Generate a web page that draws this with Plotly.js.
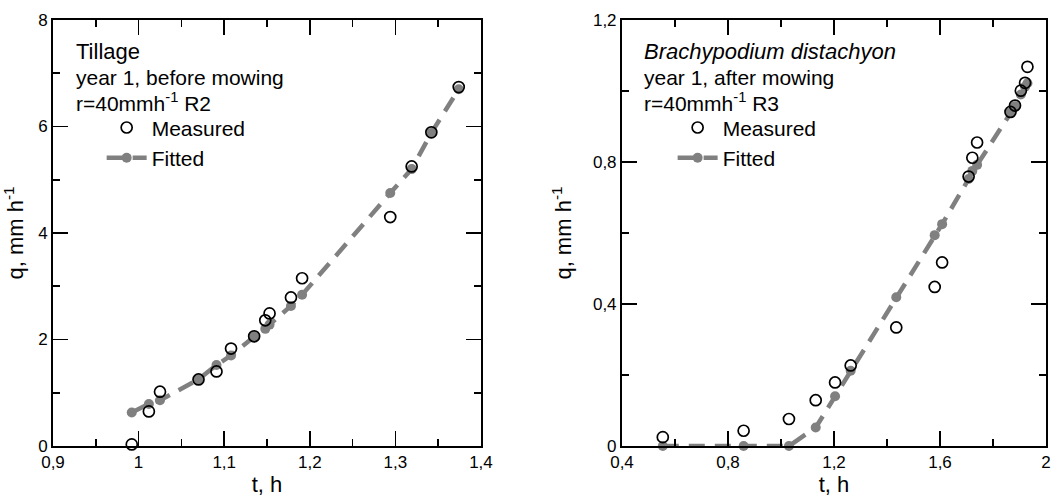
<!DOCTYPE html>
<html>
<head>
<meta charset="utf-8">
<script src="https://cdn.plot.ly/plotly-3.0.1.min.js"></script>
<style>html,body{margin:0;padding:0;background:#fff;}#chart{width:1053px;height:497px;}</style>
</head>
<body>
<div id="chart"></div>
<script>
// ---- Data: left panel (Tillage) ----
const tillTime = [0.992, 1.012, 1.025, 1.070, 1.091, 1.108, 1.135, 1.148, 1.153, 1.178, 1.191, 1.294, 1.319, 1.342, 1.374];
const tillMeasured = [0.03, 0.65, 1.02, 1.25, 1.40, 1.83, 2.06, 2.36, 2.49, 2.79, 3.15, 4.30, 5.25, 5.89, 6.74];
const tillFitted = [0.63, 0.79, 0.86, 1.25, 1.52, 1.70, 2.05, 2.20, 2.28, 2.63, 2.84, 4.75, 5.20, 5.88, 6.70];

// ---- Data: right panel (Brachypodium distachyon) ----
const brachTime = [0.554, 0.859, 1.030, 1.131, 1.204, 1.263, 1.435, 1.580, 1.608, 1.708, 1.722, 1.740, 1.866, 1.883, 1.905, 1.921, 1.930];
const brachMeasured = [0.025, 0.043, 0.076, 0.129, 0.179, 0.227, 0.334, 0.448, 0.517, 0.759, 0.812, 0.855, 0.941, 0.959, 1.001, 1.023, 1.068];
const brachFitted = [0, 0, 0, 0.052, 0.140, 0.212, 0.419, 0.594, 0.625, 0.752, 0.775, 0.792, 0.939, 0.957, 0.990, 1.012, 1.022];

// ---- Labels ----
const seriesNames = ['Measured', 'Fitted'];
const leftTitle = ['Tillage', 'year 1, before mowing', 'r=40mmh<sup>-1</sup> R2'];
const rightTitle = ['<i>Brachypodium distachyon</i>', 'year 1, after mowing', 'r=40mmh<sup>-1</sup> R3'];
const xTitle = 't, h';
const yTitle = 'q, mm h<sup>-1</sup>';

const FONT = 'Liberation Sans, Arial, sans-serif';
const GREY = '#808080';

function fittedTrace(x, y, xa, ya, leg) {
  return {
    x: x, y: y, xaxis: xa, yaxis: ya, legend: leg,
    type: 'scatter', mode: 'lines+markers', name: seriesNames[1], legendrank: 2,
    line: {color: GREY, width: 4.5, dash: '16px,10px'},
    marker: {color: GREY, size: 10, symbol: 'circle'},
    cliponaxis: false
  };
}
function measuredTrace(x, y, xa, ya, leg) {
  return {
    x: x, y: y, xaxis: xa, yaxis: ya, legend: leg,
    type: 'scatter', mode: 'markers', name: seriesNames[0], legendrank: 1,
    marker: {color: '#000', size: 11, symbol: 'circle-open', line: {width: 1.7, color: '#000'}},
    cliponaxis: false
  };
}

const data = [
  fittedTrace(tillTime, tillFitted, 'x', 'y', 'legend'),
  measuredTrace(tillTime, tillMeasured, 'x', 'y', 'legend'),
  fittedTrace(brachTime, brachFitted, 'x2', 'y2', 'legend2'),
  measuredTrace(brachTime, brachMeasured, 'x2', 'y2', 'legend2')
];

function axis(extra) {
  return Object.assign({
    showgrid: false, zeroline: false,
    showline: true, linecolor: '#000', linewidth: 2, mirror: 'allticks',
    ticks: 'inside', ticklen: 15, tickwidth: 1.6, tickcolor: '#000',
    tickfont: {family: FONT, size: 17, color: '#000'},
    fixedrange: true
  }, extra);
}

function annots(lines, xref, yref, x, ys, sizes) {
  return lines.map((t, i) => ({
    text: t, xref: xref, yref: yref, x: x, y: ys[i],
    xanchor: 'left', yanchor: 'middle', showarrow: false,
    font: {family: FONT, size: sizes[i], color: '#000'}
  }));
}
const yPix = [51, 77, 102];
const yDom = yPix.map(p => (446 - p) / 426);

const layout = {
  width: 1053, height: 497,
  margin: {l: 53, r: 7, t: 20, b: 51, pad: 0},
  paper_bgcolor: '#fff', plot_bgcolor: '#fff',
  separators: ', ',
  font: {family: FONT, color: '#000'},
  xaxis: axis({domain: [0, 0.431], range: [0.9, 1.4], tick0: 0.9, dtick: 0.1,
    minor: {dtick: 0.05, ticklen: 7, tickwidth: 1.6, tickcolor: '#000', ticks: 'inside'},
    title: {text: xTitle, font: {family: FONT, size: 22}, standoff: 6}, anchor: 'y'}),
  yaxis: axis({domain: [0, 1], range: [0, 8], tick0: 0, dtick: 2,
    minor: {dtick: 1, ticklen: 7, tickwidth: 1.6, tickcolor: '#000', ticks: 'inside'},
    title: {text: yTitle, font: {family: FONT, size: 22}, standoff: 8}, anchor: 'x'}),
  xaxis2: axis({domain: [0.573, 1], range: [0.4, 2], tick0: 0.4, dtick: 0.4,
    minor: {dtick: 0.2, ticklen: 7, tickwidth: 1.6, tickcolor: '#000', ticks: 'inside'},
    title: {text: xTitle, font: {family: FONT, size: 22}, standoff: 6}, anchor: 'y2'}),
  yaxis2: axis({domain: [0, 1], range: [0, 1.2], tick0: 0, dtick: 0.4,
    minor: {dtick: 0.2, ticklen: 7, tickwidth: 1.6, tickcolor: '#000', ticks: 'inside'},
    title: {text: yTitle, font: {family: FONT, size: 22}, standoff: 15}, anchor: 'x2'}),
  showlegend: true,
  legend: {x: 0.049, y: 0.795, xanchor: 'left', yanchor: 'top', bgcolor: 'rgba(0,0,0,0)',
    font: {family: FONT, size: 21, color: '#000'}, itemwidth: 40, tracegroupgap: 0, traceorder: 'normal'},
  legend2: {x: 0.624, y: 0.795, xanchor: 'left', yanchor: 'top', bgcolor: 'rgba(0,0,0,0)',
    font: {family: FONT, size: 21, color: '#000'}, itemwidth: 40, tracegroupgap: 0, traceorder: 'normal'},
  annotations: [].concat(
    annots(leftTitle, 'x domain', 'y domain', 0.049, yDom, [22, 21, 21]),
    annots(rightTitle, 'x2 domain', 'y2 domain', 0.047, yDom, [22, 21, 21])
  )
};

Plotly.newPlot('chart', data, layout, {staticPlot: true, displayModeBar: false});
</script>
</body>
</html>
